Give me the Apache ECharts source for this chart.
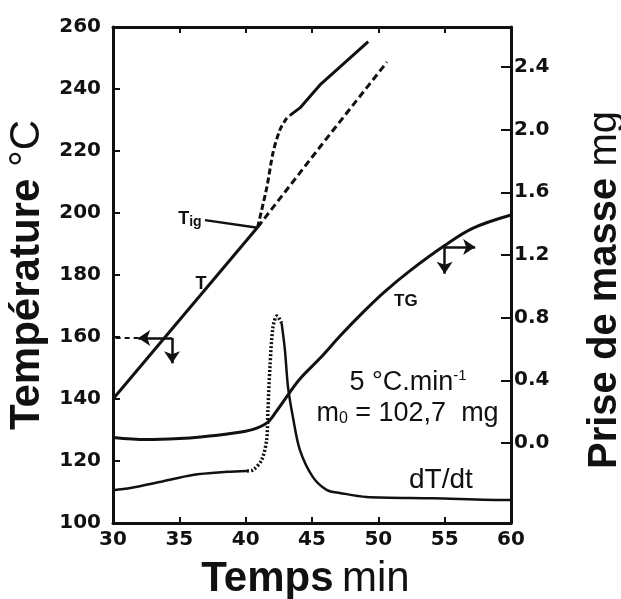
<!DOCTYPE html>
<html>
<head>
<meta charset="utf-8">
<script src="https://cdn.jsdelivr.net/npm/echarts@6/dist/echarts.min.js"></script>
<style>html,body{margin:0;padding:0;background:#fff}#c{width:621px;height:599px}</style>
</head>
<body>
<div id="c"></div>
<script>
// ---- axis ticks ----
const timeTicks = [30, 35, 40, 45, 50, 55, 60];
const tempTicks = [100, 120, 140, 160, 180, 200, 220, 240, 260];
const massTicks = [0, 0.4, 0.8, 1.2, 1.6, 2.0, 2.4];

// ---- T curve (°C vs min) ----
const T_before = [[30, 140], [40.9, 195.4]];
const T_ignition = [[40.9, 195.4], [41.6, 208.4], [42.06, 219.4], [42.58, 226.8], [43.1, 230.6], [43.34, 231.5]];
const T_after = [[43.34, 231.5], [44.09, 233.9], [45.6, 241.3], [49.24, 255.3]];
// continuation of the programmed temperature (dashed)
const T_reference = [[40.9, 195.4], [45.6, 221.3], [50.65, 248.7]];

// ---- TG curve (mass gain, mg vs min) ----
const TG = [[30, 0.035], [32.5, 0.022], [35, 0.028], [36.6, 0.038], [39, 0.062], [40.5, 0.085], [41.6, 0.128],
  [42.3, 0.2], [43.3, 0.32], [44.1, 0.41], [45.6, 0.54], [47.2, 0.69], [48.8, 0.83], [50.4, 0.96],
  [52.4, 1.10], [55.0, 1.26], [57.1, 1.37], [60, 1.455]];

// ---- dT/dt curve (arbitrary units, drawn on the temperature scale) ----
const dTdt_start = [[30, 110.6], [31.3, 111.3], [33.5, 113.2], [36, 115.5], [38.6, 116.5], [40.1, 116.8]];
const dTdt_peak = [[40.1, 116.8], [40.55, 117.1], [41.2, 120.3], [41.58, 126.8], [41.68, 136.5], [41.83, 150.3],
  [42.06, 163.2], [42.36, 166.8], [42.71, 164.5]];
const dTdt_tail = [[42.71, 164.5], [42.96, 155.8], [43.19, 143.9], [43.56, 134.2], [44.09, 123.5], [45.07, 114.8],
  [46.13, 110.6], [47.1, 109.7], [49.1, 108.4], [54.1, 108], [59.9, 107.4], [60, 107.4]];

// ---- annotation anchors (data coordinates) ----
const arrowT = { from: [34.45, 159.7], left: [31.9, 159.7], down: [34.45, 151.5], axis: [30.2, 159.7] };
const arrowTG = { from: [55.0, 1.25], right: [57.3, 1.25], top: [55.0, 1.265], down: [55.0, 1.08] };
const tigLeader = [[36.93, 197.7], [40.78, 195.3]];
const labelT = [36.63, 177.2];
const labelTig = [35.8, 197.9];
const labelTG = [52.08, 0.906];
const labelRate = [52.24, 145.3];
const labelMass = [52.2, 135.3];
const labelDTdt = [54.72, 113.8];

const INK = '#111';
const chart = echarts.init(document.getElementById('c'), null, { renderer: 'canvas' });

const tickFont = { fontFamily: 'DejaVu Sans', fontWeight: 'bold', fontSize: 20, color: INK };
const nameRich = (size) => ({
  b: { fontFamily: 'Liberation Sans', fontWeight: 'bold', fontSize: size, color: INK },
  r: { fontFamily: 'Liberation Sans', fontWeight: 'normal', fontSize: size, color: INK }
});
const lineBase = (w, type) => ({ color: INK, width: w, type: type || 'solid' });
const noSym = { showSymbol: false, symbol: 'none' };
const arrowLines = (pairs) => ({
  silent: true, animation: false, label: { show: false },
  symbol: ['none', 'arrow'], symbolSize: 12,
  lineStyle: { color: INK, width: 2.5, type: 'solid' },
  data: pairs.map(p => [{ coord: p[0] }, { coord: p[1] }])
});

const option = {
  animation: false,
  backgroundColor: '#fff',
  grid: { left: 113, right: 110, top: 27, bottom: 76, containLabel: false, outerBoundsMode: 'none' },
  xAxis: [
    {
      type: 'value', min: 30, max: 60, interval: 5, position: 'bottom',
      axisLine: { show: true, onZero: false, lineStyle: { color: INK, width: 3 } },
      axisTick: { show: true, inside: true, length: 6, lineStyle: { color: INK, width: 2 } },
      axisLabel: Object.assign({ margin: 7 }, tickFont),
      splitLine: { show: false },
      name: '{b|Temps}{r|\u2009min}', nameLocation: 'middle', nameGap: 35,
      nameTextStyle: { rich: nameRich(42), padding: [0, 13, 0, 0] }
    },
    {
      type: 'value', min: 30, max: 60, interval: 5, position: 'top',
      axisLine: { show: true, onZero: false, lineStyle: { color: INK, width: 3 } },
      axisTick: { show: true, inside: true, length: 6, lineStyle: { color: INK, width: 2 } },
      axisLabel: { show: false }, splitLine: { show: false }
    }
  ],
  yAxis: [
    {
      type: 'value', min: 100, max: 260, interval: 20, position: 'left',
      axisLine: { show: true, onZero: false, lineStyle: { color: INK, width: 3 } },
      axisTick: { show: true, inside: true, length: 7, lineStyle: { color: INK, width: 2 } },
      axisLabel: Object.assign({ margin: 12 }, tickFont),
      splitLine: { show: false },
      name: '{b|Température}{r| °C}', nameLocation: 'middle', nameGap: 62, nameRotate: 90,
      nameTextStyle: { rich: nameRich(42) }
    },
    {
      type: 'value', min: -0.511, max: 2.655, position: 'right',
      axisLine: { show: true, onZero: false, lineStyle: { color: INK, width: 3 } },
      axisTick: { show: true, inside: true, length: 10, customValues: massTicks, lineStyle: { color: INK, width: 2 } },
      axisLabel: Object.assign({ margin: 3, customValues: massTicks, formatter: v => v.toFixed(1) }, tickFont),
      splitLine: { show: false },
      name: '{b|Prise de masse}{r| mg}', nameLocation: 'middle', nameGap: 74, nameRotate: 90,
      nameTextStyle: { rich: nameRich(40), padding: [0, 30, 0, 0] }
    }
  ],
  series: [
    {
      name: 'T', type: 'line', data: T_before, yAxisIndex: 0, ...noSym, lineStyle: lineBase(3),
      markLine: arrowLines([[arrowT.from, arrowT.left], [arrowT.from, arrowT.down]]),
      markPoint: {
        silent: true, animation: false, symbol: 'circle', symbolSize: 0,
        data: [
          { coord: labelT, label: { show: true, position: 'inside', formatter: 'T', fontFamily: 'Liberation Sans', fontWeight: 'bold', fontSize: 18, color: INK } },
          { coord: labelTig, label: { show: true, position: 'inside', formatter: '{t|T}{s|ig}',
            rich: { t: { fontFamily: 'Liberation Sans', fontWeight: 'bold', fontSize: 18, color: INK },
                    s: { fontFamily: 'Liberation Sans', fontWeight: 'bold', fontSize: 14, color: INK, padding: [6, 0, 0, 0] } } } }
        ]
      }
    },
    { name: 'T ignition', type: 'line', data: T_ignition, yAxisIndex: 0, ...noSym, smooth: 0.3, lineStyle: lineBase(3, [6, 3]) },
    {
      name: 'T after ignition', type: 'line', data: T_after, yAxisIndex: 0, ...noSym, lineStyle: lineBase(3),
      markLine: {
        silent: true, animation: false, label: { show: false }, symbol: ['none', 'none'],
        data: [
          [{ coord: arrowT.axis, lineStyle: { type: [5, 4], width: 2, color: INK } }, { coord: arrowT.left }],
          [{ coord: tigLeader[0], lineStyle: { type: 'solid', width: 2.5, color: INK } }, { coord: tigLeader[1] }]
        ]
      }
    },
    { name: 'T programmed', type: 'line', data: T_reference, yAxisIndex: 0, ...noSym, lineStyle: lineBase(3, [7, 4]) },
    {
      name: 'TG', type: 'line', data: TG, yAxisIndex: 1, ...noSym, smooth: 0.35, lineStyle: lineBase(3),
      markLine: arrowLines([[arrowTG.from, arrowTG.right], [arrowTG.top, arrowTG.down]]),
      markPoint: {
        silent: true, animation: false, symbol: 'circle', symbolSize: 0,
        data: [
          { coord: labelTG, label: { show: true, position: 'inside', formatter: 'TG', fontFamily: 'Liberation Sans', fontWeight: 'bold', fontSize: 17, color: INK } }
        ]
      }
    },
    {
      name: 'dT/dt', type: 'line', data: dTdt_start, yAxisIndex: 0, ...noSym, smooth: 0.3, lineStyle: lineBase(2.5),
      markPoint: {
        silent: true, animation: false, symbol: 'circle', symbolSize: 0,
        data: [
          { coord: labelRate, label: { show: true, position: 'inside', formatter: '{n|5 °C.min}{s|-1}',
            rich: { n: { fontFamily: 'Liberation Sans', fontSize: 27, color: INK },
                    s: { fontFamily: 'Liberation Sans', fontSize: 15, color: INK, padding: [0, 0, 14, 0] } } } },
          { coord: labelMass, label: { show: true, position: 'inside', formatter: '{n|m}{s|0}{n| = 102,7  mg}',
            rich: { n: { fontFamily: 'Liberation Sans', fontSize: 27, color: INK },
                    s: { fontFamily: 'Liberation Sans', fontSize: 16, color: INK, padding: [10, 0, 0, 0] } } } },
          { coord: labelDTdt, label: { show: true, position: 'inside', formatter: 'dT/dt', fontFamily: 'Liberation Sans', fontSize: 28, color: INK } }
        ]
      }
    },
    { name: 'dT/dt peak', type: 'line', data: dTdt_peak, yAxisIndex: 0, ...noSym, smooth: 0.3, lineStyle: lineBase(3.5, [2, 2]) },
    { name: 'dT/dt tail', type: 'line', data: dTdt_tail, yAxisIndex: 0, ...noSym, smooth: 0.3, lineStyle: lineBase(2.5) }
  ]
};
chart.setOption(option);
</script>
</body>
</html>
